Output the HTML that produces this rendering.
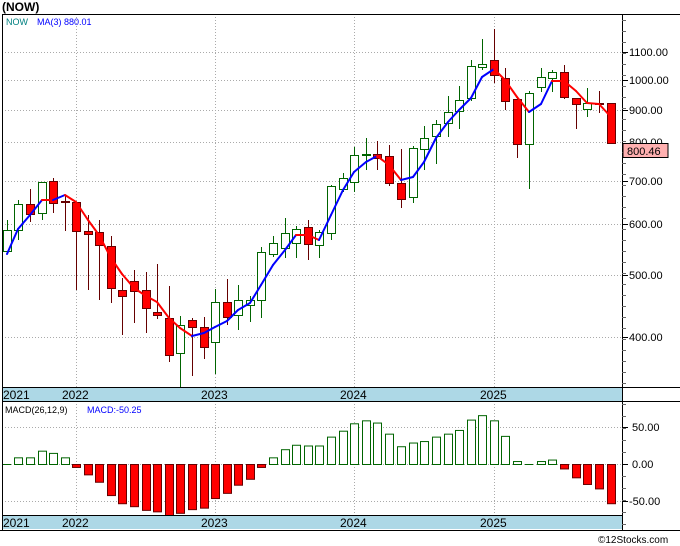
<!DOCTYPE html>
<html><head><meta charset="utf-8"><style>
html,body{margin:0;padding:0;background:#fff;}
svg{display:block;font-family:"Liberation Sans",sans-serif;}
</style></head><body>
<svg id="s" width="680" height="546" xmlns="http://www.w3.org/2000/svg">
<rect width="680" height="546" fill="#fff"/>
<text x="2" y="11" font-size="12" font-weight="bold" fill="#000">(NOW)</text>
</svg>
<script>
const s=document.getElementById('s');const NS='http://www.w3.org/2000/svg';
function el(t,a,txt){const e=document.createElementNS(NS,t);for(const k in a)e.setAttribute(k,a[k]);if(txt!==undefined)e.textContent=txt;s.appendChild(e);return e;}
const lv=[[1100,52],[1000,80],[900,110],[800,142],[700,181],[600,224],[500,275],[400,337]];
for(const [p,y] of lv){el('line',{x1:2,x2:622,y1:y+.5,y2:y+.5,stroke:'#aaa','stroke-dasharray':'1,2'});}
const yrs=[[76,'2022'],[215,'2023'],[354,'2024'],[494,'2025']];
for(const [x] of yrs){el('line',{x1:x+.5,x2:x+.5,y1:14,y2:387,stroke:'#aaa','stroke-dasharray':'1,2'});el('line',{x1:x+.5,x2:x+.5,y1:401,y2:515,stroke:'#aaa','stroke-dasharray':'1,2'});}
[427,464,501].forEach(y=>el('line',{x1:2,x2:622,y1:y+.5,y2:y+.5,stroke:'#aaa','stroke-dasharray':'1,2'}));
const C=[[7,251,230,220,251,1],[18,230,204,200,240,1],[30,204,214,189,222,0],[42,213,182,182,220,1],[53,181,203,178,213,0],[65,201,202,195,231,0],[76,202,231,202,290,0],[88,231,234,215,290,0],[99,232,245,220,300,0],[111,246,288,236,303,0],[122,290,296,278,335,0],[134,281,291,270,323,0],[146,290,308,272,333,0],[157,312,315,264,319,0],[169,318,355,286,362,0],[180,353,325,316,387,1],[192,320,327,318,376,0],[204,327,347,317,359,0],[215,342,302,289,374,1],[227,302,317,279,325,0],[238,315,300,285,330,1],[250,305,300,296,322,1],[261,300,252,247,318,1],[273,254,243,236,257,1],[285,248,233,218,258,1],[296,243,229,226,258,1],[308,227,244,220,260,0],[319,245,232,230,258,1],[331,233,186,185,240,1],[343,189,178,173,192,1],[354,182,155,147,192,1],[366,155,154,138,170,1],[377,154,158,141,170,0],[389,156,183,145,186,0],[401,183,199,149,208,0],[413,197,148,146,203,1],[424,149,138,126,170,1],[436,136,124,120,164,1],[448,123,112,96,137,1],[459,111,100,86,129,1],[471,98,66,60,101,1],[482,67,64,39,70,1],[494,60,75,29,83,0],[505,78,101,68,110,0],[517,99,144,98,158,0],[529,144,93,91,189,1],[541,87,77,68,92,1],[552,78,72,70,92,1],[564,72,97,65,99,0],[576,98,104,98,129,0],[587,109,103,88,117,1],[599,103,104,91,113,0],[611,103,143,103,144,0]];
for(const [x,o,c,h,l,g] of C){
 const top=Math.min(o,c),bot=Math.max(o,c),hh=Math.max(bot-top,1);
 if(g){el('line',{x1:x+.5,x2:x+.5,y1:h,y2:l,stroke:'#006400'});el('rect',{x:x-3.5,y:top+.5,width:8,height:hh,fill:'#fff',stroke:'#006400'});}
 else{el('line',{x1:x+.5,x2:x+.5,y1:h,y2:l,stroke:'#600'});el('rect',{x:x-3.5,y:top+.5,width:8,height:hh,fill:'#f00',stroke:'#600'});}
}
const M=[[7,254],[18,229],[30,215],[42,200],[53,200],[65,195],[76,202],[88,220],[99,235],[111,258],[122,274],[134,288],[146,296],[157,302],[169,318],[180,328],[192,336],[204,333],[215,327],[227,321],[238,310],[250,303],[261,285],[273,265],[285,250],[296,235],[308,235],[319,240],[331,215],[343,190],[354,172],[366,162],[377,156],[389,165],[401,180],[413,177],[424,162],[436,138],[448,122],[459,110],[471,98],[482,77],[494,69],[505,80],[517,97],[529,112],[541,104],[552,81],[564,81],[576,91],[587,103],[599,104],[611,117]];
for(let i=1;i<M.length;i++){el('line',{x1:M[i-1][0],y1:M[i-1][1],x2:M[i][0],y2:M[i][1],stroke:M[i][1]>=M[i-1][1]?'#f00':'#00f','stroke-width':2,'stroke-linecap':'round'});}
const V=[0,9,9,18,15,9,-4,-14,-24,-42,-53,-57,-62,-64,-70,-66,-61,-59,-46,-39,-28,-20,-4,9,20,26,25,25,37,45,55,59,56,41,24,29,31,37,41,46,60,66,59,38,4,0,4,6,-6,-18,-27,-33,-53];
V.forEach((v,i)=>{const x=C[i][0];const h=v*0.74;
 if(v>0)el('rect',{x:x-3.5,y:464.5-h,width:8,height:h,fill:'#fff',stroke:'#006400'});
 else if(v<0)el('rect',{x:x-3.5,y:464.5,width:8,height:-h,fill:'#f00',stroke:'#600'});
 else el('line',{x1:x-4,x2:x+4,y1:464.5,y2:464.5,stroke:'#006400'});});
for(const y of [387,515]){el('rect',{x:2,y:y,width:620,height:14,fill:'#add8e6'});
 el('text',{x:3,y:y+12,'font-size':12,fill:'#000'},'2021');
 for(const [x,t] of yrs)el('text',{x:x-14,y:y+12,'font-size':12,fill:'#000'},t);}
el('line',{x1:2,x2:680,y1:14.5,y2:14.5,stroke:'#000'});
el('line',{x1:2,x2:680,y1:387.5,y2:387.5,stroke:'#000'});
el('line',{x1:2,x2:680,y1:401.5,y2:401.5,stroke:'#000'});
el('line',{x1:2,x2:622,y1:515.5,y2:515.5,stroke:'#000'});
el('line',{x1:0,x2:680,y1:530.5,y2:530.5,stroke:'#000'});
el('line',{x1:2.5,x2:2.5,y1:14,y2:530,stroke:'#000'});
el('line',{x1:622.5,x2:622.5,y1:14,y2:530,stroke:'#000'});
for(let y=20;y<387;y+=11){el('line',{x1:622,x2:626,y1:y+.5,y2:y+.5,stroke:'#666'});}
for(let y=404;y<530;y+=12){el('line',{x1:622,x2:626,y1:y+.5,y2:y+.5,stroke:'#666'});}
for(const [p,y] of lv){if(p==800)continue;el('line',{x1:622,x2:628,y1:y+.5,y2:y+.5,stroke:'#000'});el('text',{x:629,y:y+4,'font-size':11,fill:'#000'},p.toFixed(2));}
el('text',{x:629,y:146,'font-size':11,fill:'#000'},'800.00');
el('rect',{x:623,y:143.5,width:45,height:14,fill:'#ffb0b0',stroke:'#000'});
el('text',{x:627,y:155,'font-size':11,fill:'#000'},'800.46');
[[427,'50.00'],[464,'0.00'],[501,'-50.00']].forEach(([y,t])=>{el('line',{x1:622,x2:628,y1:y+.5,y2:y+.5,stroke:'#000'});el('text',{x:t[0]=='-'?629:632,y:y+4,'font-size':11,fill:'#000'},t);});
el('text',{x:6,y:25,'font-size':9,fill:'#008080'},'NOW');
el('text',{x:37,y:25,'font-size':9,fill:'#00f'},'MA(3)  880.01');
el('text',{x:5,y:413,'font-size':9,fill:'#000'},'MACD(26,12,9)');
el('text',{x:87,y:413,'font-size':9,fill:'#00f'},'MACD:-50.25');
el('text',{x:598,y:543,'font-size':10,fill:'#000'},'©12Stocks.com');
</script>
</body></html>
